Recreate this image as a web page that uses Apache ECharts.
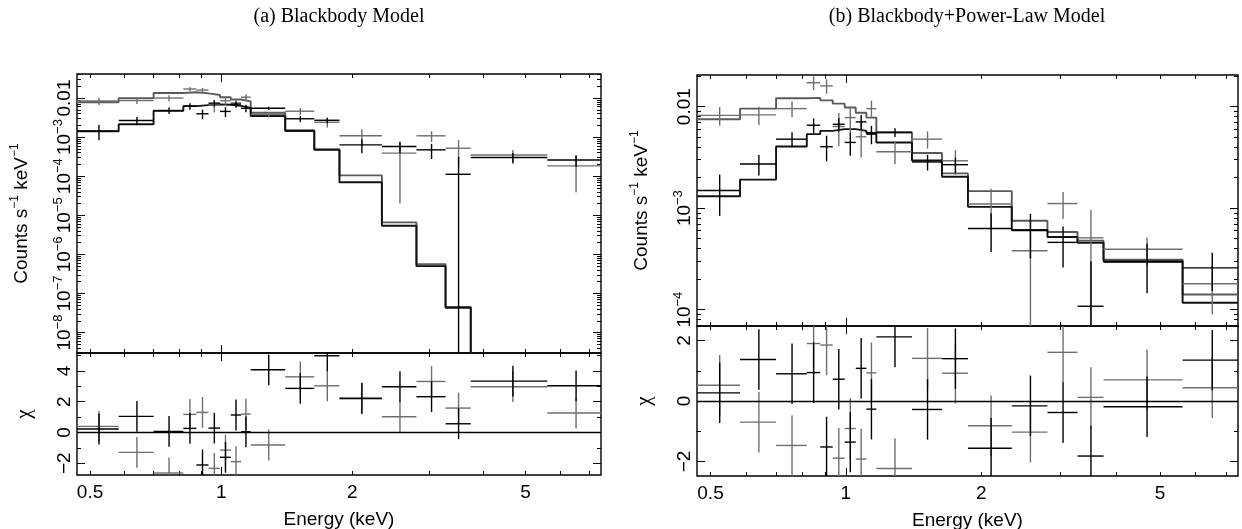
<!DOCTYPE html>
<html>
<head>
<meta charset="utf-8">
<script src="https://cdn.jsdelivr.net/npm/echarts@6/dist/echarts.min.js"></script>
<style>
  html, body { margin: 0; padding: 0; background: #fff; }
  #chart { width: 1242px; height: 529px; }
</style>
</head>
<body>
<div id="chart"></div>
<script>
// Energy bin edges (keV), shared by both spectra and both fits
const binEdges = [0.4666, 0.5816, 0.6995, 0.8187, 0.877, 0.935, 0.994, 1.052, 1.111, 1.169,
                  1.403, 1.636, 1.869, 2.339, 2.808, 3.275, 3.742, 5.61, 7.45];

// ---- (a) blackbody fit: counts s^-1 keV^-1 ----
const bbModelGray  = [7.8e-3, 9.9e-3, 0.0135, 0.0141, 0.0132, 0.0120, 0.0105, 9.2e-3, 8.2e-3,
                      4.2e-3, 1.5e-3, 4.9e-4, 1.05e-4, 6.6e-6, 5.6e-7, 4.5e-8, 2e-11, 1e-15];
const bbModelBlack = [1.40e-3, 2.13e-3, 4.7e-3, 6.2e-3, 6.6e-3, 6.9e-3, 6.75e-3, 6.3e-3, 5.6e-3,
                      3.46e-3, 1.43e-3, 4.73e-4, 7.0e-5, 5.4e-6, 5.0e-7, 4.3e-8, 1.5e-11, 8e-16];
const bbDataGray   = [8.4e-3, 8.6e-3, 0.0100, 0.0170, 0.0160, 6.6e-3, 8.5e-3, 7.5e-3, 0.0105,
                      3.8e-3, 4.6e-3, 2.4e-3, 1.08e-3, 3.9e-4, 1.08e-3, 5.2e-4, 3.5e-4, 1.84e-4];
const bbErrGray    = [1.8e-3, 1.6e-3, 1.8e-3, 2.2e-3, 2.2e-3, 2.3e-3, 2.2e-3, 2.0e-3, 2.0e-3,
                      0.6e-3, 0.9e-3, 0.65e-3, 0.48e-3, 3.7e-4, 3.3e-4, 3.3e-4, 1.2e-4, 1.45e-4];
const bbDataBlack  = [1.43e-3, 2.67e-3, 4.8e-3, 6.2e-3, 3.96e-3, 7.4e-3, 4.55e-3, 7.0e-3, 5.5e-3,
                      5.5e-3, 2.95e-3, 2.7e-3, 6.35e-4, 5.75e-4, 4.73e-4, 1.12e-4, 3.0e-4, 2.6e-4];
const bbErrBlack   = [0.6e-3, 0.6e-3, 0.9e-3, 1.2e-3, 1.1e-3, 1.3e-3, 1.3e-3, 1.2e-3, 1.2e-3,
                      0.5e-3, 0.53e-3, 0.45e-3, 2.5e-4, 1.9e-4, 2.0e-4, 2.0e-4, 0.9e-4, 0.86e-4];
// residuals (chi)
const bbChiBlack = [0.22, 1.04, 0.06, 0.26, -2.12, 0.28, -1.62, 1.13, 0.04,
                    4.07, 2.86, 4.98, 2.22, 2.97, 2.32, 0.56, 3.33, 3.03];
const bbChiGray  = [0.39, -1.30, -2.64, 1.17, 1.30, -2.34, -1.15, -1.90, 1.19,
                    -0.82, 3.61, 3.03, 2.18, 1.02, 3.31, 1.58, 2.97, 1.26];

// ---- (b) blackbody + power-law fit ----
const plModelGray  = [7.5e-3, 9.55e-3, 0.0121, 0.0122, 0.01153, 0.0107, 9.8e-3, 8.7e-3, 7.8e-3,
                      5.6e-3, 3.49e-3, 2.2e-3, 1.47e-3, 7.5e-4, 5.83e-4, 4.77e-4, 3.11e-4, 1.41e-4];
const plModelBlack = [1.31e-3, 1.91e-3, 4.05e-3, 5.36e-3, 5.77e-3, 6.0e-3, 6.0e-3, 5.77e-3, 5.5e-3,
                      4.44e-3, 2.95e-3, 2.04e-3, 1.03e-3, 6.1e-4, 5.2e-4, 4.55e-4, 3.0e-4, 1.17e-4];
const plDataGray   = [8.2e-3, 8.3e-3, 9.56e-3, 0.0172, 0.0160, 6.37e-3, 7.8e-3, 5.05e-3, 9.56e-3,
                      3.6e-3, 4.78e-3, 2.93e-3, 1.1e-3, 3.8e-4, 1.11e-3, 5.1e-4, 3.94e-4, 1.80e-4];
const plErrGray    = [1.7e-3, 1.7e-3, 1.7e-3, 2.7e-3, 2.6e-3, 2.3e-3, 2.2e-3, 1.9e-3, 1.9e-3,
                      0.9e-3, 0.92e-3, 0.8e-3, 0.45e-3, 3.6e-4, 3.3e-4, 4.5e-4, 1.2e-4, 0.9e-4];
const plDataBlack  = [1.49e-3, 2.72e-3, 4.78e-3, 6.56e-3, 4.03e-3, 6.7e-3, 4.44e-3, 7.07e-3, 5.36e-3,
                      5.56e-3, 2.85e-3, 2.68e-3, 6.3e-4, 6.0e-4, 4.6e-4, 1.08e-4, 2.95e-4, 2.58e-4];
const plErrBlack   = [0.65e-3, 0.62e-3, 0.8e-3, 1.1e-3, 1.14e-3, 1.0e-3, 1.15e-3, 1.2e-3, 1.1e-3,
                      0.55e-3, 0.5e-3, 0.46e-3, 2.6e-4, 2.8e-4, 2.0e-4, 1.9e-4, 1.5e-4, 1.05e-4];
const plChiBlack = [0.27, 1.37, 0.90, 0.94, -1.52, 0.72, -1.36, 1.08, -0.27,
                    2.12, -0.28, 1.40, -1.56, -0.16, -0.38, -1.82, -0.19, 1.35];
const plChiGray  = [0.52, -0.70, -1.47, 1.90, 1.85, -1.89, -0.91, -1.92, 0.93,
                    -2.23, 1.41, 0.92, -0.82, -1.03, 1.61, 0.12, 0.70, 0.44];

// axis ranges and labelled ticks
const energyRange = [0.4666, 7.45];
const energyLabels = [0.5, 1, 2, 5];
const bbRateRange = [3.0e-9, 0.0412];
const plRateRange = [6.9e-5, 0.0205];
const bbChiRange = [-2.77, 5.16];
const plChiRange = [-2.48, 2.48];
const bbChiLabels = [-2, 0, 2, 4];
const plChiLabels = [-2, 0, 2];

const BLACK = '#000000';
const GRAY = '#6e6e6e';
const SANS = '"Liberation Sans", Arial, Helvetica, sans-serif';
const SERIF = '"Liberation Serif", "Times New Roman", serif';

// decade ticks (1 x 10^k) and in-between ticks (2..9 x 10^k) of a log range
function logTicks(lo, hi) {
  const major = [], minor = [];
  for (let k = Math.floor(Math.log10(lo)) - 1; k <= Math.ceil(Math.log10(hi)); k++) {
    const p = Math.pow(10, k);
    if (p >= lo && p <= hi) major.push(p);
    for (let m = 2; m <= 9; m++) {
      const v = m * p;
      if (v >= lo && v <= hi) minor.push(v);
    }
  }
  return { major, minor };
}
function linTicks(lo, hi) {
  const major = [], minor = [];
  for (let v = Math.ceil(lo); v <= Math.floor(hi); v++) {
    (v % 2 === 0 ? major : minor).push(v);
  }
  return { major, minor };
}

const supRich = {
  b: { fontFamily: SANS, fontSize: 19, color: '#000', lineHeight: 22, verticalAlign: 'bottom' },
  s: { fontFamily: SANS, fontSize: 13, color: '#000', lineHeight: 13, verticalAlign: 'top' }
};
function powerLabel(v) {
  const e = Math.round(Math.log10(v));
  if (e === -2) return '{b|0.01}';
  return '{b|10}{s|\u2212' + (-e) + '}';
}
function chiLabel(v) {
  return v < 0 ? '\u2212' + (-v) : String(v);
}

const tickLine = { color: '#000', width: 1 };
const noLine = { show: false, onZero: false };

// four x axes per grid: bottom/top, short/long ticks
function energyAxes(gi, withLabels) {
  const t = logTicks(energyRange[0], energyRange[1]);
  const base = {
    gridIndex: gi, type: 'log', logBase: 10, min: energyRange[0], max: energyRange[1],
    axisLine: noLine, splitLine: { show: false }, axisLabel: { show: false }
  };
  const bottomMinor = Object.assign({}, base, {
    position: 'bottom',
    axisTick: { inside: true, length: 4, customValues: t.minor, lineStyle: tickLine }
  });
  if (withLabels) {
    bottomMinor.axisLabel = {
      show: true, customValues: energyLabels, margin: 8,
      fontFamily: SANS, fontSize: 19, color: '#000',
      formatter: v => String(Math.round(v * 10) / 10)
    };
    bottomMinor.name = 'Energy (keV)';
    bottomMinor.nameLocation = 'middle';
    bottomMinor.nameGap = 35;
    bottomMinor.nameTextStyle = { fontFamily: SANS, fontSize: 19, color: '#000' };
  }
  return [
    bottomMinor,
    Object.assign({}, base, { position: 'bottom', axisTick: { inside: true, length: 8, customValues: t.major, lineStyle: tickLine } }),
    Object.assign({}, base, { position: 'top', axisTick: { inside: true, length: 4, customValues: t.minor, lineStyle: tickLine } }),
    Object.assign({}, base, { position: 'top', axisTick: { inside: true, length: 8, customValues: t.major, lineStyle: tickLine } })
  ];
}

// four y axes per grid: left/right, short/long ticks
function valueAxes(gi, cfg) {
  const base = {
    gridIndex: gi, type: cfg.type, min: cfg.range[0], max: cfg.range[1],
    axisLine: noLine, splitLine: { show: false }, axisLabel: { show: false }
  };
  if (cfg.type === 'log') base.logBase = 10;
  const t = cfg.type === 'log' ? logTicks(cfg.range[0], cfg.range[1]) : linTicks(cfg.range[0], cfg.range[1]);
  const leftMinor = Object.assign({}, base, {
    position: 'left',
    axisTick: { inside: true, length: 4, customValues: t.minor, lineStyle: tickLine },
    axisLabel: {
      show: true, customValues: cfg.labels, rotate: 90, margin: 3,
      fontFamily: SANS, fontSize: 19, color: '#000',
      formatter: cfg.formatter, rich: supRich
    },
    name: cfg.name, nameLocation: 'middle', nameGap: cfg.nameGap,
    nameTextStyle: cfg.nameStyle
  });
  return [
    leftMinor,
    Object.assign({}, base, { position: 'left', axisTick: { inside: true, length: 8, customValues: t.major, lineStyle: tickLine } }),
    Object.assign({}, base, { position: 'right', axisTick: { inside: true, length: 4, customValues: t.minor, lineStyle: tickLine } }),
    Object.assign({}, base, { position: 'right', axisTick: { inside: true, length: 8, customValues: t.major, lineStyle: tickLine } })
  ];
}

const countsName = '{a|Counts s}{e|\u22121}{a| keV}{e|\u22121}';
const countsStyle = {
  rich: {
    a: { fontFamily: SANS, fontSize: 19, color: '#000', lineHeight: 22, verticalAlign: 'bottom' },
    e: { fontFamily: SANS, fontSize: 12, color: '#000', lineHeight: 12, verticalAlign: 'top' }
  }
};
const chiStyle = { fontFamily: SERIF, fontSize: 21, color: '#000' };

const grids = [
  { left: 77, top: 74, width: 524, height: 279 },   // (a) spectrum
  { left: 77, top: 353, width: 524, height: 122 },  // (a) residuals
  { left: 697, top: 75, width: 541, height: 251 },  // (b) spectrum
  { left: 697, top: 326, width: 541, height: 150 }  // (b) residuals
].map(g => Object.assign({ show: true, borderColor: '#000', borderWidth: 1.4,
  backgroundColor: 'transparent', containLabel: false, outerBoundsMode: 'none' }, g));

const xAxis = [].concat(
  energyAxes(0, false), energyAxes(1, true), energyAxes(2, false), energyAxes(3, true)
);
const yAxis = [].concat(
  valueAxes(0, { type: 'log', range: bbRateRange, labels: logTicks(bbRateRange[0], bbRateRange[1]).major,
                 formatter: powerLabel, name: countsName, nameGap: 46, nameStyle: countsStyle }),
  valueAxes(1, { type: 'value', range: bbChiRange, labels: bbChiLabels,
                 formatter: chiLabel, name: '\u03c7', nameGap: 42, nameStyle: chiStyle }),
  valueAxes(2, { type: 'log', range: plRateRange, labels: logTicks(plRateRange[0], plRateRange[1]).major,
                 formatter: powerLabel, name: countsName, nameGap: 46, nameStyle: countsStyle }),
  valueAxes(3, { type: 'value', range: plChiRange, labels: plChiLabels,
                 formatter: chiLabel, name: '\u03c7', nameGap: 42, nameStyle: chiStyle })
);

// histogram-style model: one flat segment per bin, joined by vertical steps
function stepSeries(gi, values, color) {
  const pts = [];
  values.forEach((v, i) => { pts.push([binEdges[i], v]); pts.push([binEdges[i + 1], v]); });
  return {
    type: 'line', xAxisIndex: gi * 4, yAxisIndex: gi * 4, data: pts,
    showSymbol: false, symbol: 'none', clip: true, silent: true,
    lineStyle: { color: color, width: 1.9 }, z: 3
  };
}

// data points drawn as crosses: bin width horizontally, error range vertically
function crossSeries(gi, values, lower, upper, color, extra) {
  const data = values.map((v, i) => {
    const lo = binEdges[i], hi = binEdges[i + 1];
    return [lo, hi, (lo + hi) / 2, v, lower[i], upper[i]];
  });
  return Object.assign({
    type: 'custom', xAxisIndex: gi * 4, yAxisIndex: gi * 4, data: data, silent: true,
    encode: { x: [0, 1, 2], y: [3, 4, 5] }, z: 4,
    renderItem: function (params, api) {
      const cs = params.coordSys;
      const top = cs.y, bottom = cs.y + cs.height, left = cs.x, right = cs.x + cs.width;
      const cy = v => Math.min(Math.max(v, top), bottom);
      const cx = v => Math.min(Math.max(v, left), right);
      const L = api.coord([api.value(0), api.value(3)]);
      const R = api.coord([api.value(1), api.value(3)]);
      const T = api.coord([api.value(2), api.value(5)]);
      const B = api.coord([api.value(2), api.value(4)]);
      const style = { stroke: color, lineWidth: 1.4, fill: null };
      const children = [];
      if (L[1] >= top && L[1] <= bottom) {
        children.push({ type: 'line', shape: { x1: cx(L[0]), y1: L[1], x2: cx(R[0]), y2: R[1] }, style: style });
      }
      const y1 = cy(T[1]), y2 = cy(isFinite(B[1]) ? B[1] : bottom);
      if (y2 > y1) children.push({ type: 'line', shape: { x1: T[0], y1: y1, x2: B[0], y2: y2 }, style: style });
      return { type: 'group', children: children };
    }
  }, extra || {});
}

function rateCross(gi, values, errs, floor, color) {
  const lower = values.map((v, i) => (v - errs[i] > 0 ? v - errs[i] : floor / 100));
  const upper = values.map((v, i) => v + errs[i]);
  return crossSeries(gi, values, lower, upper, color);
}
function chiCross(gi, values, color, extra) {
  return crossSeries(gi, values, values.map(v => v - 1), values.map(v => v + 1), color, extra);
}
const zeroLine = {
  markLine: {
    silent: true, symbol: 'none', label: { show: false },
    lineStyle: { color: '#000', width: 1.4, type: 'solid' },
    data: [{ yAxis: 0 }]
  }
};

const series = [
  stepSeries(0, bbModelGray, '#5a5a5a'),
  stepSeries(0, bbModelBlack, '#111'),
  rateCross(0, bbDataGray, bbErrGray, bbRateRange[0], GRAY),
  rateCross(0, bbDataBlack, bbErrBlack, bbRateRange[0], BLACK),
  chiCross(1, bbChiGray, GRAY, zeroLine),
  chiCross(1, bbChiBlack, BLACK),
  stepSeries(2, plModelGray, '#5a5a5a'),
  stepSeries(2, plModelBlack, '#111'),
  rateCross(2, plDataGray, plErrGray, plRateRange[0], GRAY),
  rateCross(2, plDataBlack, plErrBlack, plRateRange[0], BLACK),
  chiCross(3, plChiGray, GRAY, zeroLine),
  chiCross(3, plChiBlack, BLACK)
];

const chart = echarts.init(document.getElementById('chart'), null, { renderer: 'canvas' });
chart.setOption({
  backgroundColor: '#fff',
  animation: false,
  grid: grids,
  xAxis: xAxis,
  yAxis: yAxis,
  series: series,
  graphic: [
    { type: 'text', x: 339, y: 17, silent: true,
      style: { text: '(a) Blackbody Model', font: '20px ' + SERIF, fill: '#000', align: 'center', verticalAlign: 'middle' } },
    { type: 'text', x: 967, y: 17, silent: true,
      style: { text: '(b) Blackbody+Power-Law Model', font: '20px ' + SERIF, fill: '#000', align: 'center', verticalAlign: 'middle' } }
  ]
});
</script>
</body>
</html>
